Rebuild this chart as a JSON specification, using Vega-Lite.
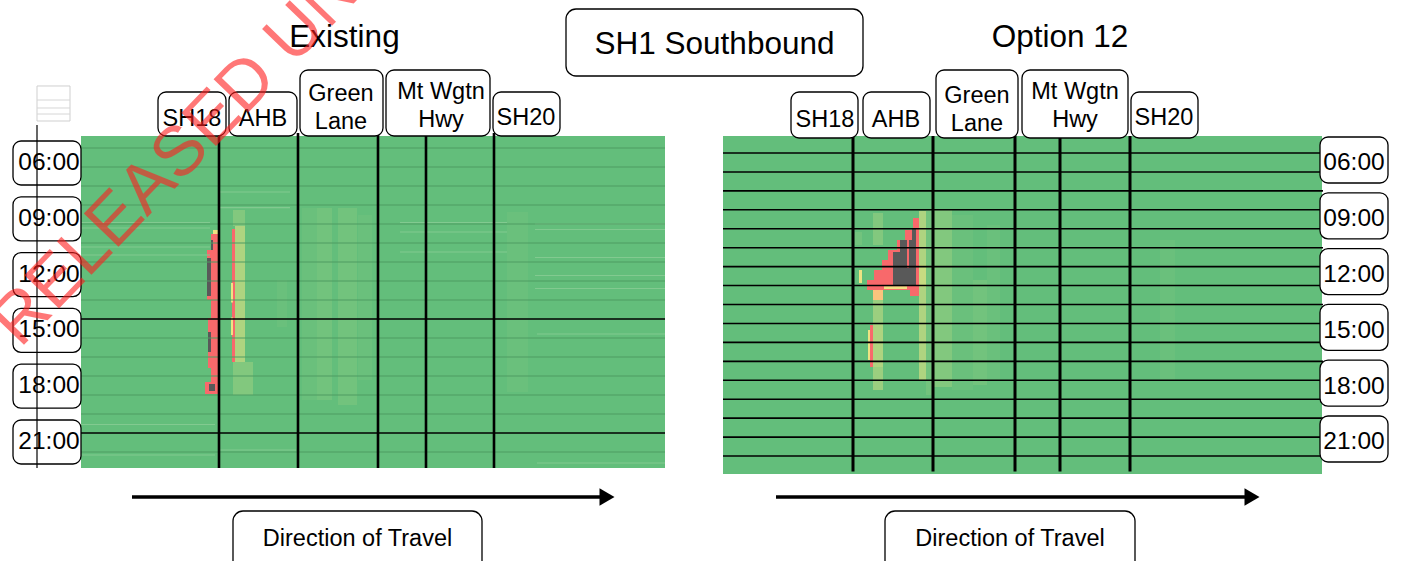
{
"$schema": "https://vega.github.io/schema/vega-lite/v6.json",
"width": 1402, "height": 561,
"autosize": {"type": "fit", "contains": "padding"},
"padding": 0,
"background": "white",
"config": {"view": {"stroke": null}, "font": "Liberation Sans"},
"datasets": {
"cellsL": [
{"x0":0,"x1":14.6,"t0":4.548,"t1":22.398,"level":"free"},
{"x0":4.9,"x1":5.15,"t0":12.29,"t1":14.817,"level":"l1"},
{"x0":5.525,"x1":5.9,"t0":8.419,"t1":18.742,"level":"l1"},
{"x0":5.9,"x1":6.275,"t0":8.419,"t1":18.742,"level":"l2"},
{"x0":6.425,"x1":6.9,"t0":8.419,"t1":19.011,"level":"l2"},
{"x0":6.925,"x1":7.275,"t0":8.796,"t1":17.667,"level":"l1"},
{"x0":10.65,"x1":11.175,"t0":8.634,"t1":9.71,"level":"l1"},
{"x0":10.65,"x1":11.175,"t0":9.71,"t1":18.312,"level":"l1"},
{"x0":3.8,"x1":4.1,"t0":8.527,"t1":9.387,"level":"l3"},
{"x0":3.8,"x1":4.3,"t0":16.699,"t1":18.473,"level":"l3"},
{"x0":3.85,"x1":4.1,"t0":9.387,"t1":16.699,"level":"l5"},
{"x0":3.775,"x1":3.85,"t0":9.548,"t1":16.699,"level":"red"},
{"x0":3.75,"x1":3.8,"t0":12.45,"t1":13.5,"level":"yellow"},
{"x0":3.75,"x1":3.8,"t0":14.3,"t1":15.25,"level":"yellow"},
{"x0":3.3,"x1":3.425,"t0":9.6,"t1":9.817,"level":"yellow"},
{"x0":3.25,"x1":3.425,"t0":9.817,"t1":18.419,"level":"red"},
{"x0":3.15,"x1":3.25,"t0":10.677,"t1":13.366,"level":"red"},
{"x0":3.175,"x1":3.25,"t0":14.333,"t1":17.022,"level":"red"},
{"x0":3.1,"x1":3.25,"t0":17.774,"t1":18.419,"level":"red"},
{"x0":3.15,"x1":3.25,"t0":11.108,"t1":13.151,"level":"stopped"},
{"x0":3.175,"x1":3.25,"t0":15.086,"t1":16.161,"level":"stopped"},
{"x0":3.2,"x1":3.35,"t0":17.882,"t1":18.258,"level":"stopped"},
{"x0":3.25,"x1":3.3,"t0":10.14,"t1":10.677,"level":"stopped"}
],
"streaksL": [
{"x0":0,"x1":3.225,"t":9.199},{"x0":0,"x1":3.225,"t":9.495},{"x0":0,"x1":3.225,"t":10.516},{"x0":0,"x1":3.225,"t":10.946},
{"x0":3.45,"x1":5.225,"t":7.559},{"x0":3.45,"x1":5.225,"t":8.403},
{"x0":7.975,"x1":10.65,"t":9.199},{"x0":7.975,"x1":10.65,"t":9.71},{"x0":7.975,"x1":10.65,"t":10.785},
{"x0":11.35,"x1":14.6,"t":9.28},{"x0":11.35,"x1":14.6,"t":9.575},{"x0":11.35,"x1":14.6,"t":11.081},{"x0":11.35,"x1":14.6,"t":12.048},{"x0":11.35,"x1":14.6,"t":12.747},
{"x0":0,"x1":3.35,"t":20.059},{"x0":0,"x1":3.35,"t":21.699},{"x0":3.475,"x1":5.375,"t":21.43},
{"x0":11.4,"x1":14.6,"t":15.194},{"x0":11.4,"x1":14.6,"t":22.129}
],
"gridL": [{"t":5.194},{"t":6.215},{"t":7.237},{"t":8.258},{"t":9.28},{"t":10.301},{"t":11.323},{"t":12.344},{"t":13.366},{"t":15.409},{"t":16.43},{"t":17.452},{"t":18.473},{"t":19.495},{"t":21.538}],
"gridLmajor": [{"t":14.387},{"t":20.516}],
"sectionsL": [{"x":3.45},{"x":5.425},{"x":7.425},{"x":8.625},{"x":10.325}],
"labelsL": [
{"label":"SH18","x0":1.925,"x1":3.625,"t0":2.183,"t1":4.548,"xm":2.775,"tm":3.634},
{"label":"AHB","x0":3.7,"x1":5.4,"t0":2.183,"t1":4.548,"xm":4.55,"tm":3.634},
{"label":"Green|Lane","x0":5.475,"x1":7.55,"t0":1.0,"t1":4.548,"xm":6.5,"tm":2.29},
{"label":"Mt Wgtn|Hwy","x0":7.625,"x1":10.225,"t0":1.0,"t1":4.548,"xm":9.0,"tm":2.209},
{"label":"SH20","x0":10.3,"x1":11.975,"t0":2.183,"t1":4.548,"xm":11.125,"tm":3.581}
],
"timesL": [
{"time":"06:00","t":6,"t0":4.817,"t1":7.183},{"time":"09:00","t":9,"t0":7.817,"t1":10.183},{"time":"12:00","t":12,"t0":10.817,"t1":13.183},
{"time":"15:00","t":15,"t0":13.817,"t1":16.183},{"time":"18:00","t":18,"t0":16.817,"t1":19.183},{"time":"21:00","t":21,"t0":19.817,"t1":22.183}
],
"boxesL": [{"x0":12.125,"x1":19.55,"t0":-2.28,"t1":1.323},{"x0":3.8,"x1":10.025,"t0":24.71,"t1":28.5}],
"titlesL": [{"txt":"Existing","x":6.5875,"t":-0.72},{"txt":"SH1 Southbound","x":15.8375,"t":-0.344}],
"dirL": [{"txt":"Direction of Travel","x":6.9125,"t":26.215}],
"arrowL": [{"x0":1.275,"x1":12.975,"xh":13.15,"t":23.957}],
"iconL": [{"x0":-1.1,"x1":-0.275,"t0":1.86,"t1":3.742}],
"iconLinesL": [{"t":2.613},{"t":3.043},{"t":3.366}],
"cellsR": [
{"x0":0,"x1":14.975,"t0":4.522,"t1":22.694,"level":"free"},
{"x0":5.075,"x1":5.25,"t0":8.5,"t1":18.446,"level":"l2"},
{"x0":5.25,"x1":5.725,"t0":8.5,"t1":18.016,"level":"l3"},
{"x0":5.725,"x1":6.25,"t0":8.769,"t1":18.177,"level":"l1"},
{"x0":6.25,"x1":6.6,"t0":12.263,"t1":17.908,"level":"l2"},
{"x0":6.6,"x1":6.925,"t0":9.306,"t1":17.64,"level":"l1"},
{"x0":10.925,"x1":11.3,"t0":10.113,"t1":17.64,"level":"l1"},
{"x0":3.75,"x1":4.0,"t0":8.661,"t1":10.382,"level":"l3"},
{"x0":3.75,"x1":4.0,"t0":13.339,"t1":18.177,"level":"l4"},
{"x0":3.75,"x1":4.0,"t0":14.683,"t1":16.941,"level":"l5"},
{"x0":4.9,"x1":5.075,"t0":8.554,"t1":17.64,"level":"l5"},
{"x0":4.9,"x1":5.075,"t0":11.457,"t1":12.64,"level":"l6"},
{"x0":3.3,"x1":3.475,"t0":9.683,"t1":10.382,"level":"l2"},
{"x0":3.4,"x1":3.475,"t0":11.726,"t1":12.425,"level":"yellow"},
{"x0":4.75,"x1":4.9,"t0":8.93,"t1":9.575,"level":"red"},
{"x0":4.55,"x1":4.9,"t0":9.575,"t1":10.113,"level":"red"},
{"x0":4.35,"x1":4.9,"t0":10.113,"t1":10.651,"level":"red"},
{"x0":4.125,"x1":4.9,"t0":10.651,"t1":11.188,"level":"red"},
{"x0":3.975,"x1":4.9,"t0":11.188,"t1":11.726,"level":"red"},
{"x0":3.775,"x1":4.9,"t0":11.726,"t1":12.263,"level":"red"},
{"x0":3.6,"x1":4.9,"t0":12.263,"t1":12.801,"level":"red"},
{"x0":4.675,"x1":4.9,"t0":12.801,"t1":13.124,"level":"red"},
{"x0":4.725,"x1":4.825,"t0":9.522,"t1":10.113,"level":"stopped"},
{"x0":4.425,"x1":4.825,"t0":10.113,"t1":10.758,"level":"stopped"},
{"x0":4.25,"x1":4.825,"t0":10.758,"t1":12.586,"level":"stopped"},
{"x0":4.6,"x1":4.65,"t0":10.005,"t1":11.618,"level":"red"},
{"x0":4.025,"x1":4.6,"t0":12.6,"t1":12.75,"level":"yellow"},
{"x0":3.75,"x1":4.0,"t0":12.801,"t1":13.339,"level":"orange"},
{"x0":3.675,"x1":3.75,"t0":14.683,"t1":16.941,"level":"red"},
{"x0":3.625,"x1":3.675,"t0":14.952,"t1":16.565,"level":"yellow"}
],
"gridR": [{"t":5.436},{"t":6.454},{"t":7.472},{"t":8.49},{"t":9.509},{"t":10.527},{"t":11.545},{"t":12.563},{"t":13.582},{"t":14.6},{"t":15.618},{"t":16.637},{"t":17.655},{"t":18.673},{"t":19.691},{"t":20.71},{"t":21.728}],
"sectionsR": [{"x":3.25},{"x":5.25},{"x":7.3},{"x":8.425},{"x":10.175}],
"labelsR": [
{"label":"SH18","x0":1.7,"x1":3.375,"t0":2.156,"t1":4.629,"xm":2.55,"tm":3.661},
{"label":"AHB","x0":3.5,"x1":5.175,"t0":2.156,"t1":4.629,"xm":4.325,"tm":3.661},
{"label":"Green|Lane","x0":5.325,"x1":7.375,"t0":0.973,"t1":4.629,"xm":6.35,"tm":2.371},
{"label":"Mt Wgtn|Hwy","x0":7.475,"x1":10.125,"t0":0.973,"t1":4.629,"xm":8.8,"tm":2.182},
{"label":"SH20","x0":10.2,"x1":11.875,"t0":2.156,"t1":4.629,"xm":11.025,"tm":3.554}
],
"timesR": [
{"time":"06:00","t":6,"t0":4.575,"t1":7.048},{"time":"09:00","t":9,"t0":7.575,"t1":10.048},{"time":"12:00","t":12,"t0":10.575,"t1":13.048},
{"time":"15:00","t":15,"t0":13.575,"t1":16.048},{"time":"18:00","t":18,"t0":16.575,"t1":19.048},{"time":"21:00","t":21,"t0":19.575,"t1":22.048}
],
"boxesR": [{"x0":4.05,"x1":10.3,"t0":24.683,"t1":28.5}],
"titlesR": [{"txt":"Option 12","x":8.425,"t":-0.747}],
"dirR": [{"txt":"Direction of Travel","x":7.175,"t":26.188}],
"arrowR": [{"x0":1.325,"x1":13.05,"xh":13.225,"t":23.93}],
"stamp": [{"txt":"RELEASED UNDER THE OFFICIAL INFORMATION ACT","x":-1.525,"t":16.0}]
},
"layer": [
{
"layer": [
{"data":{"name":"cellsL"},"mark":{"type":"rect"},
 "encoding":{"x":{"field":"x0","type":"quantitative","scale":{"domain":[-2.025,33.025],"nice":false,"zero":false},"axis":null},"x2":{"field":"x1"},
 "y":{"field":"t0","type":"quantitative","scale":{"domain":[-2.7634,27.3978],"nice":false,"zero":false,"reverse":true},"axis":null},"y2":{"field":"t1"},
 "color":{"field":"level","type":"nominal","legend":null,"scale":{"domain":["free","l1","l2","l3","l4","l5","l6","yellow","orange","red","stopped"],"range":["#63BE7B","#6AC07C","#72C37D","#82C87E","#9BCF7F","#AED480","#C6DB81","#EEE383","#FAC47D","#F8696B","#595959"]}}}},
{"data":{"name":"streaksL"},"mark":{"type":"rule","color":"#82CA90","strokeWidth":1.2},
 "encoding":{"x":{"field":"x0","type":"quantitative","scale":{"domain":[-2.025,33.025],"nice":false,"zero":false},"axis":null},"x2":{"field":"x1"},
 "y":{"field":"t","type":"quantitative","scale":{"domain":[-2.7634,27.3978],"nice":false,"zero":false,"reverse":true},"axis":null}}},
{"data":{"name":"gridL"},"mark":{"type":"rule","color":"#4F9C62","strokeWidth":1.2},
 "encoding":{"x":{"datum":0,"type":"quantitative","scale":{"domain":[-2.025,33.025],"nice":false,"zero":false},"axis":null},"x2":{"datum":14.6},
 "y":{"field":"t","type":"quantitative","scale":{"domain":[-2.7634,27.3978],"nice":false,"zero":false,"reverse":true},"axis":null}}},
{"data":{"name":"gridLmajor"},"mark":{"type":"rule","color":"#000000","strokeWidth":1.3},
 "encoding":{"x":{"datum":0,"type":"quantitative","scale":{"domain":[-2.025,33.025],"nice":false,"zero":false},"axis":null},"x2":{"datum":14.6},
 "y":{"field":"t","type":"quantitative","scale":{"domain":[-2.7634,27.3978],"nice":false,"zero":false,"reverse":true},"axis":null}}},
{"data":{"name":"sectionsL"},"mark":{"type":"rule","color":"#000000","strokeWidth":2.6},
 "encoding":{"x":{"field":"x","type":"quantitative","scale":{"domain":[-2.025,33.025],"nice":false,"zero":false},"axis":null},
 "y":{"datum":4.387,"type":"quantitative","scale":{"domain":[-2.7634,27.3978],"nice":false,"zero":false,"reverse":true},"axis":null},"y2":{"datum":22.398}}},
{"data":{"name":"labelsL"},"mark":{"type":"rect","fill":"white","stroke":"black","strokeWidth":1.3,"cornerRadius":8},
 "encoding":{"x":{"field":"x0","type":"quantitative","scale":{"domain":[-2.025,33.025],"nice":false,"zero":false},"axis":null},"x2":{"field":"x1"},
 "y":{"field":"t0","type":"quantitative","scale":{"domain":[-2.7634,27.3978],"nice":false,"zero":false,"reverse":true},"axis":null},"y2":{"field":"t1"}}},
{"data":{"name":"labelsL"},"mark":{"type":"text","fontSize":23.5,"lineBreak":"|","lineHeight":28,"align":"center","baseline":"middle","color":"black"},
 "encoding":{"x":{"field":"xm","type":"quantitative","scale":{"domain":[-2.025,33.025],"nice":false,"zero":false},"axis":null},
 "y":{"field":"tm","type":"quantitative","scale":{"domain":[-2.7634,27.3978],"nice":false,"zero":false,"reverse":true},"axis":null},"text":{"field":"label"}}},
{"data":{"name":"timesL"},"mark":{"type":"rect","fill":"white","stroke":"black","strokeWidth":1.3,"cornerRadius":8},
 "encoding":{"x":{"datum":-1.7,"type":"quantitative","scale":{"domain":[-2.025,33.025],"nice":false,"zero":false},"axis":null},"x2":{"datum":0},
 "y":{"field":"t0","type":"quantitative","scale":{"domain":[-2.7634,27.3978],"nice":false,"zero":false,"reverse":true},"axis":null},"y2":{"field":"t1"}}},
{"data":{"name":"timesL"},"mark":{"type":"text","fontSize":24.5,"align":"center","baseline":"middle","color":"black"},
 "encoding":{"x":{"datum":-0.8,"type":"quantitative","scale":{"domain":[-2.025,33.025],"nice":false,"zero":false},"axis":null},
 "y":{"field":"t","type":"quantitative","scale":{"domain":[-2.7634,27.3978],"nice":false,"zero":false,"reverse":true},"axis":null},"text":{"field":"time"}}},
{"data":{"name":"iconL"},"mark":{"type":"rect","fill":"white","stroke":"#cfcfcf","strokeWidth":1},
 "encoding":{"x":{"field":"x0","type":"quantitative","scale":{"domain":[-2.025,33.025],"nice":false,"zero":false},"axis":null},"x2":{"field":"x1"},
 "y":{"field":"t0","type":"quantitative","scale":{"domain":[-2.7634,27.3978],"nice":false,"zero":false,"reverse":true},"axis":null},"y2":{"field":"t1"}}},
{"data":{"name":"iconLinesL"},"mark":{"type":"rule","color":"#d6d6d6","strokeWidth":1},
 "encoding":{"x":{"datum":-1.1,"type":"quantitative","scale":{"domain":[-2.025,33.025],"nice":false,"zero":false},"axis":null},"x2":{"datum":-0.275},
 "y":{"field":"t","type":"quantitative","scale":{"domain":[-2.7634,27.3978],"nice":false,"zero":false,"reverse":true},"axis":null}}},
{"data":{"values":[{"x":-1.1}]},"mark":{"type":"rule","color":"black","strokeWidth":1.2},
 "encoding":{"x":{"field":"x","type":"quantitative","scale":{"domain":[-2.025,33.025],"nice":false,"zero":false},"axis":null},
 "y":{"datum":3.957,"type":"quantitative","scale":{"domain":[-2.7634,27.3978],"nice":false,"zero":false,"reverse":true},"axis":null},"y2":{"datum":22.398}}},
{"data":{"name":"boxesL"},"mark":{"type":"rect","fill":"white","stroke":"black","strokeWidth":1.3,"cornerRadius":10,"clip":true},
 "encoding":{"x":{"field":"x0","type":"quantitative","scale":{"domain":[-2.025,33.025],"nice":false,"zero":false},"axis":null},"x2":{"field":"x1"},
 "y":{"field":"t0","type":"quantitative","scale":{"domain":[-2.7634,27.3978],"nice":false,"zero":false,"reverse":true},"axis":null},"y2":{"field":"t1"}}},
{"data":{"name":"titlesL"},"mark":{"type":"text","fontSize":31.5,"align":"center","baseline":"middle","color":"black"},
 "encoding":{"x":{"field":"x","type":"quantitative","scale":{"domain":[-2.025,33.025],"nice":false,"zero":false},"axis":null},
 "y":{"field":"t","type":"quantitative","scale":{"domain":[-2.7634,27.3978],"nice":false,"zero":false,"reverse":true},"axis":null},"text":{"field":"txt"}}},
{"data":{"name":"dirL"},"mark":{"type":"text","fontSize":23.5,"align":"center","baseline":"middle","color":"black"},
 "encoding":{"x":{"field":"x","type":"quantitative","scale":{"domain":[-2.025,33.025],"nice":false,"zero":false},"axis":null},
 "y":{"field":"t","type":"quantitative","scale":{"domain":[-2.7634,27.3978],"nice":false,"zero":false,"reverse":true},"axis":null},"text":{"field":"txt"}}},
{"data":{"name":"arrowL"},"mark":{"type":"rule","color":"black","strokeWidth":3.5},
 "encoding":{"x":{"field":"x0","type":"quantitative","scale":{"domain":[-2.025,33.025],"nice":false,"zero":false},"axis":null},"x2":{"field":"x1"},
 "y":{"field":"t","type":"quantitative","scale":{"domain":[-2.7634,27.3978],"nice":false,"zero":false,"reverse":true},"axis":null}}},
{"data":{"name":"arrowL"},"mark":{"type":"point","shape":"triangle-right","filled":true,"color":"black","opacity":1,"size":300},
 "encoding":{"x":{"field":"xh","type":"quantitative","scale":{"domain":[-2.025,33.025],"nice":false,"zero":false},"axis":null},
 "y":{"field":"t","type":"quantitative","scale":{"domain":[-2.7634,27.3978],"nice":false,"zero":false,"reverse":true},"axis":null}}}
]
},
{
"layer": [
{"data":{"name":"cellsR"},"mark":{"type":"rect"},
 "encoding":{"x":{"field":"x0","type":"quantitative","scale":{"domain":[-18.075,16.975],"nice":false,"zero":false},"axis":null},"x2":{"field":"x1"},
 "y":{"field":"t0","type":"quantitative","scale":{"domain":[-2.7903,27.371],"nice":false,"zero":false,"reverse":true},"axis":null},"y2":{"field":"t1"},
 "color":{"field":"level","type":"nominal","legend":null,"scale":{"domain":["free","l1","l2","l3","l4","l5","l6","yellow","orange","red","stopped"],"range":["#63BE7B","#6AC07C","#72C37D","#82C87E","#9BCF7F","#AED480","#C6DB81","#EEE383","#FAC47D","#F8696B","#595959"]}}}},
{"data":{"name":"gridR"},"mark":{"type":"rule","color":"#000000","strokeWidth":1.6},
 "encoding":{"x":{"datum":0,"type":"quantitative","scale":{"domain":[-18.075,16.975],"nice":false,"zero":false},"axis":null},"x2":{"datum":15.0},
 "y":{"field":"t","type":"quantitative","scale":{"domain":[-2.7903,27.371],"nice":false,"zero":false,"reverse":true},"axis":null}}},
{"data":{"name":"sectionsR"},"mark":{"type":"rule","color":"#000000","strokeWidth":3},
 "encoding":{"x":{"field":"x","type":"quantitative","scale":{"domain":[-18.075,16.975],"nice":false,"zero":false},"axis":null},
 "y":{"datum":4.522,"type":"quantitative","scale":{"domain":[-2.7903,27.371],"nice":false,"zero":false,"reverse":true},"axis":null},"y2":{"datum":22.56}}},
{"data":{"name":"labelsR"},"mark":{"type":"rect","fill":"white","stroke":"black","strokeWidth":1.3,"cornerRadius":8},
 "encoding":{"x":{"field":"x0","type":"quantitative","scale":{"domain":[-18.075,16.975],"nice":false,"zero":false},"axis":null},"x2":{"field":"x1"},
 "y":{"field":"t0","type":"quantitative","scale":{"domain":[-2.7903,27.371],"nice":false,"zero":false,"reverse":true},"axis":null},"y2":{"field":"t1"}}},
{"data":{"name":"labelsR"},"mark":{"type":"text","fontSize":23.5,"lineBreak":"|","lineHeight":28,"align":"center","baseline":"middle","color":"black"},
 "encoding":{"x":{"field":"xm","type":"quantitative","scale":{"domain":[-18.075,16.975],"nice":false,"zero":false},"axis":null},
 "y":{"field":"tm","type":"quantitative","scale":{"domain":[-2.7903,27.371],"nice":false,"zero":false,"reverse":true},"axis":null},"text":{"field":"label"}}},
{"data":{"name":"timesR"},"mark":{"type":"rect","fill":"white","stroke":"black","strokeWidth":1.3,"cornerRadius":8},
 "encoding":{"x":{"datum":14.925,"type":"quantitative","scale":{"domain":[-18.075,16.975],"nice":false,"zero":false},"axis":null},"x2":{"datum":16.625},
 "y":{"field":"t0","type":"quantitative","scale":{"domain":[-2.7903,27.371],"nice":false,"zero":false,"reverse":true},"axis":null},"y2":{"field":"t1"}}},
{"data":{"name":"timesR"},"mark":{"type":"text","fontSize":24.5,"align":"center","baseline":"middle","color":"black"},
 "encoding":{"x":{"datum":15.775,"type":"quantitative","scale":{"domain":[-18.075,16.975],"nice":false,"zero":false},"axis":null},
 "y":{"field":"t","type":"quantitative","scale":{"domain":[-2.7903,27.371],"nice":false,"zero":false,"reverse":true},"axis":null},"text":{"field":"time"}}},
{"data":{"name":"boxesR"},"mark":{"type":"rect","fill":"white","stroke":"black","strokeWidth":1.3,"cornerRadius":10,"clip":true},
 "encoding":{"x":{"field":"x0","type":"quantitative","scale":{"domain":[-18.075,16.975],"nice":false,"zero":false},"axis":null},"x2":{"field":"x1"},
 "y":{"field":"t0","type":"quantitative","scale":{"domain":[-2.7903,27.371],"nice":false,"zero":false,"reverse":true},"axis":null},"y2":{"field":"t1"}}},
{"data":{"name":"titlesR"},"mark":{"type":"text","fontSize":31.5,"align":"center","baseline":"middle","color":"black"},
 "encoding":{"x":{"field":"x","type":"quantitative","scale":{"domain":[-18.075,16.975],"nice":false,"zero":false},"axis":null},
 "y":{"field":"t","type":"quantitative","scale":{"domain":[-2.7903,27.371],"nice":false,"zero":false,"reverse":true},"axis":null},"text":{"field":"txt"}}},
{"data":{"name":"dirR"},"mark":{"type":"text","fontSize":23.5,"align":"center","baseline":"middle","color":"black"},
 "encoding":{"x":{"field":"x","type":"quantitative","scale":{"domain":[-18.075,16.975],"nice":false,"zero":false},"axis":null},
 "y":{"field":"t","type":"quantitative","scale":{"domain":[-2.7903,27.371],"nice":false,"zero":false,"reverse":true},"axis":null},"text":{"field":"txt"}}},
{"data":{"name":"arrowR"},"mark":{"type":"rule","color":"black","strokeWidth":3.5},
 "encoding":{"x":{"field":"x0","type":"quantitative","scale":{"domain":[-18.075,16.975],"nice":false,"zero":false},"axis":null},"x2":{"field":"x1"},
 "y":{"field":"t","type":"quantitative","scale":{"domain":[-2.7903,27.371],"nice":false,"zero":false,"reverse":true},"axis":null}}},
{"data":{"name":"arrowR"},"mark":{"type":"point","shape":"triangle-right","filled":true,"color":"black","opacity":1,"size":300},
 "encoding":{"x":{"field":"xh","type":"quantitative","scale":{"domain":[-18.075,16.975],"nice":false,"zero":false},"axis":null},
 "y":{"field":"t","type":"quantitative","scale":{"domain":[-2.7903,27.371],"nice":false,"zero":false,"reverse":true},"axis":null}}}
]
},
{"data":{"name":"stamp"},"mark":{"type":"text","fontSize":70,"align":"left","baseline":"alphabetic","angle":-46,"color":"#FF1E1E","opacity":0.6,"clip":true},
 "encoding":{"x":{"field":"x","type":"quantitative","scale":{"domain":[-2.025,33.025],"nice":false,"zero":false},"axis":null},
 "y":{"field":"t","type":"quantitative","scale":{"domain":[-2.7634,27.3978],"nice":false,"zero":false,"reverse":true},"axis":null},"text":{"field":"txt"}}}
],
"resolve": {"scale": {"x": "independent", "y": "independent"}}
}
